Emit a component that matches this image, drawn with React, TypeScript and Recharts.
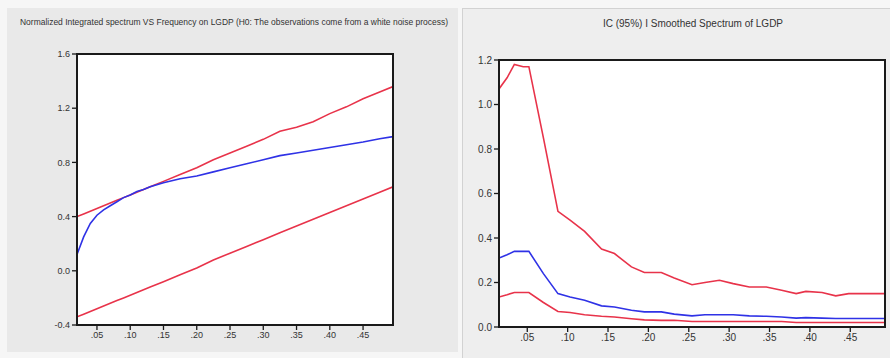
import { Line, LineChart, XAxis, YAxis } from 'recharts'

// left panel: normalized integrated spectrum
const freqLeft = [0.02, 0.03, 0.04, 0.05, 0.06, 0.07, 0.08, 0.09, 0.1, 0.11, 0.12, 0.13, 0.15, 0.175, 0.2, 0.225, 0.25, 0.275, 0.3, 0.325, 0.35, 0.375, 0.4, 0.425, 0.45, 0.475, 0.495]
const upperLeft = [0.4, 0.42, 0.44, 0.46, 0.48, 0.5, 0.52, 0.54, 0.56, 0.58, 0.6, 0.62, 0.66, 0.71, 0.76, 0.82, 0.87, 0.92, 0.97, 1.03, 1.06, 1.1, 1.16, 1.21, 1.27, 1.32, 1.36]
const spectrumLeft = [0.12, 0.25, 0.35, 0.41, 0.45, 0.48, 0.51, 0.54, 0.56, 0.585, 0.6, 0.62, 0.65, 0.68, 0.7, 0.73, 0.76, 0.79, 0.82, 0.85, 0.87, 0.89, 0.91, 0.93, 0.95, 0.975, 0.99]
const lowerLeft = [-0.34, -0.32, -0.3, -0.28, -0.26, -0.24, -0.22, -0.2, -0.18, -0.16, -0.14, -0.12, -0.08, -0.03, 0.02, 0.08, 0.13, 0.18, 0.23, 0.28, 0.33, 0.38, 0.43, 0.48, 0.53, 0.58, 0.62]
const yTicksLeft = [-0.4, 0, 0.4, 0.8, 1.2, 1.6]

// right panel: smoothed spectrum with 95% band
const freqRight = [0.015, 0.025, 0.034, 0.045, 0.052, 0.07, 0.088, 0.103, 0.121, 0.142, 0.158, 0.179, 0.195, 0.216, 0.232, 0.254, 0.27, 0.288, 0.305, 0.325, 0.346, 0.365, 0.383, 0.395, 0.415, 0.432, 0.448, 0.47, 0.493]
const upperRight = [1.07, 1.12, 1.18, 1.17, 1.17, 0.85, 0.52, 0.48, 0.43, 0.35, 0.33, 0.27, 0.245, 0.245, 0.22, 0.19, 0.2, 0.21, 0.195, 0.18, 0.18, 0.165, 0.15, 0.16, 0.155, 0.14, 0.15, 0.15, 0.15]
const spectrumRight = [0.31, 0.325, 0.34, 0.34, 0.34, 0.24, 0.15, 0.135, 0.12, 0.095, 0.09, 0.075, 0.068, 0.068, 0.058, 0.05, 0.055, 0.055, 0.055, 0.05, 0.048, 0.045, 0.04, 0.042, 0.04, 0.038, 0.038, 0.038, 0.038]
const lowerRight = [0.135, 0.145, 0.155, 0.155, 0.155, 0.11, 0.07, 0.065, 0.055, 0.048, 0.045, 0.037, 0.032, 0.03, 0.03, 0.025, 0.025, 0.025, 0.025, 0.025, 0.025, 0.025, 0.02, 0.02, 0.02, 0.02, 0.02, 0.02, 0.02]
const yTicksRight = [0, 0.2, 0.4, 0.6, 0.8, 1.0, 1.2]

const xTicks = [0.05, 0.1, 0.15, 0.2, 0.25, 0.3, 0.35, 0.4, 0.45]

const leftData = freqLeft.map((f, i) => ({ f, upper: upperLeft[i], spec: spectrumLeft[i], lower: lowerLeft[i] }))
const rightData = freqRight.map((f, i) => ({ f, upper: upperRight[i], spec: spectrumRight[i], lower: lowerRight[i] }))

const RED = '#e8334a'
const BLUE = '#2f32e6'
const AXIS = '#1a1a1a'
const FONT = 'Liberation Sans, Arial, sans-serif'
const Y_AXIS_W = 40
const X_AXIS_H = 30

const fmtX = (v: number) => v.toFixed(2).replace(/^0/, '')

type Margin = { top: number; right: number; bottom: number; left: number }

function Panel({
  data,
  left,
  width,
  height,
  margin,
  xDomain,
  yDomain,
  yTicks,
  fontSize,
}: {
  data: { f: number; upper: number; spec: number; lower: number }[]
  left: number
  width: number
  height: number
  margin: Margin
  xDomain: [number, number]
  yDomain: [number, number]
  yTicks: number[]
  fontSize: number
}) {
  const tick = { fill: '#333', fontSize, fontFamily: FONT }
  const tickLine = { stroke: AXIS, strokeWidth: 1.3 }
  const px = margin.left + Y_AXIS_W
  const py = margin.top
  const pw = width - margin.left - Y_AXIS_W - margin.right
  const ph = height - margin.top - margin.bottom - X_AXIS_H
  return (
    <div style={{ position: 'absolute', left, top: 0, width, height }}>
      <svg style={{ position: 'absolute', left: 0, top: 0 }} width={width} height={height}>
        <rect x={px} y={py} width={pw} height={ph} fill="#ffffff" />
      </svg>
      <div style={{ position: 'absolute', left: 0, top: 0 }}>
        <LineChart width={width} height={height} data={data} margin={margin}>
          <XAxis
            dataKey="f"
            type="number"
            domain={xDomain}
            ticks={xTicks}
            tickFormatter={fmtX}
            allowDataOverflow
            axisLine={false}
            tickLine={tickLine}
            tickSize={5}
            tick={tick}
            height={X_AXIS_H}
          />
          <YAxis
            type="number"
            domain={yDomain}
            ticks={yTicks}
            tickFormatter={(v: number) => v.toFixed(1)}
            allowDataOverflow
            axisLine={false}
            tickLine={tickLine}
            tickSize={5}
            tick={tick}
            width={Y_AXIS_W}
          />
          <Line dataKey="upper" stroke={RED} strokeWidth={1.6} dot={false} isAnimationActive={false} type="linear" />
          <Line dataKey="lower" stroke={RED} strokeWidth={1.6} dot={false} isAnimationActive={false} type="linear" />
          <Line dataKey="spec" stroke={BLUE} strokeWidth={1.6} dot={false} isAnimationActive={false} type="linear" />
        </LineChart>
      </div>
      {/* frame drawn on top, like the EViews box */}
      <svg style={{ position: 'absolute', left: 0, top: 0, pointerEvents: 'none' }} width={width} height={height}>
        <rect x={px} y={py} width={pw} height={ph} fill="none" stroke={AXIS} strokeWidth={2} />
      </svg>
    </div>
  )
}

export default function App() {
  return (
    <div style={{ position: 'absolute', left: 0, top: 0, width: 890, height: 358, background: '#f6f6f6', overflow: 'hidden', fontFamily: FONT }}>
      <div style={{ position: 'absolute', left: 7, top: 8, width: 451, height: 344, background: '#e9e9e9' }} />
      <div style={{ position: 'absolute', left: 462, top: 8, width: 428, height: 350, background: '#eeeeee', borderLeft: '1px solid #d2d2d2', borderTop: '1px solid #d2d2d2' }} />

      <svg style={{ position: 'absolute', left: 0, top: 0 }} width={890} height={40}>
        <text x={20} y={25} fontSize={9} fill="#333" fontFamily={FONT} textLength={428} lengthAdjust="spacingAndGlyphs">
          Normalized Integrated spectrum VS Frequency on LGDP (H0: The observations come from a white noise process)
        </text>
        <text x={693} y={27} fontSize={10} fill="#333" fontFamily={FONT} textAnchor="middle">
          IC (95%) I Smoothed Spectrum of LGDP
        </text>
      </svg>

      <Panel
        data={leftData}
        left={0}
        width={455}
        height={358}
        margin={{ top: 54, right: 62, bottom: 3, left: 37 }}
        xDomain={[0.02, 0.495]}
        yDomain={[-0.4, 1.6]}
        yTicks={yTicksLeft}
        fontSize={9}
      />
      <Panel
        data={rightData}
        left={455}
        width={435}
        height={358}
        margin={{ top: 60, right: 5, bottom: 1, left: 4 }}
        xDomain={[0.015, 0.493]}
        yDomain={[0, 1.2]}
        yTicks={yTicksRight}
        fontSize={10}
      />
    </div>
  )
}
